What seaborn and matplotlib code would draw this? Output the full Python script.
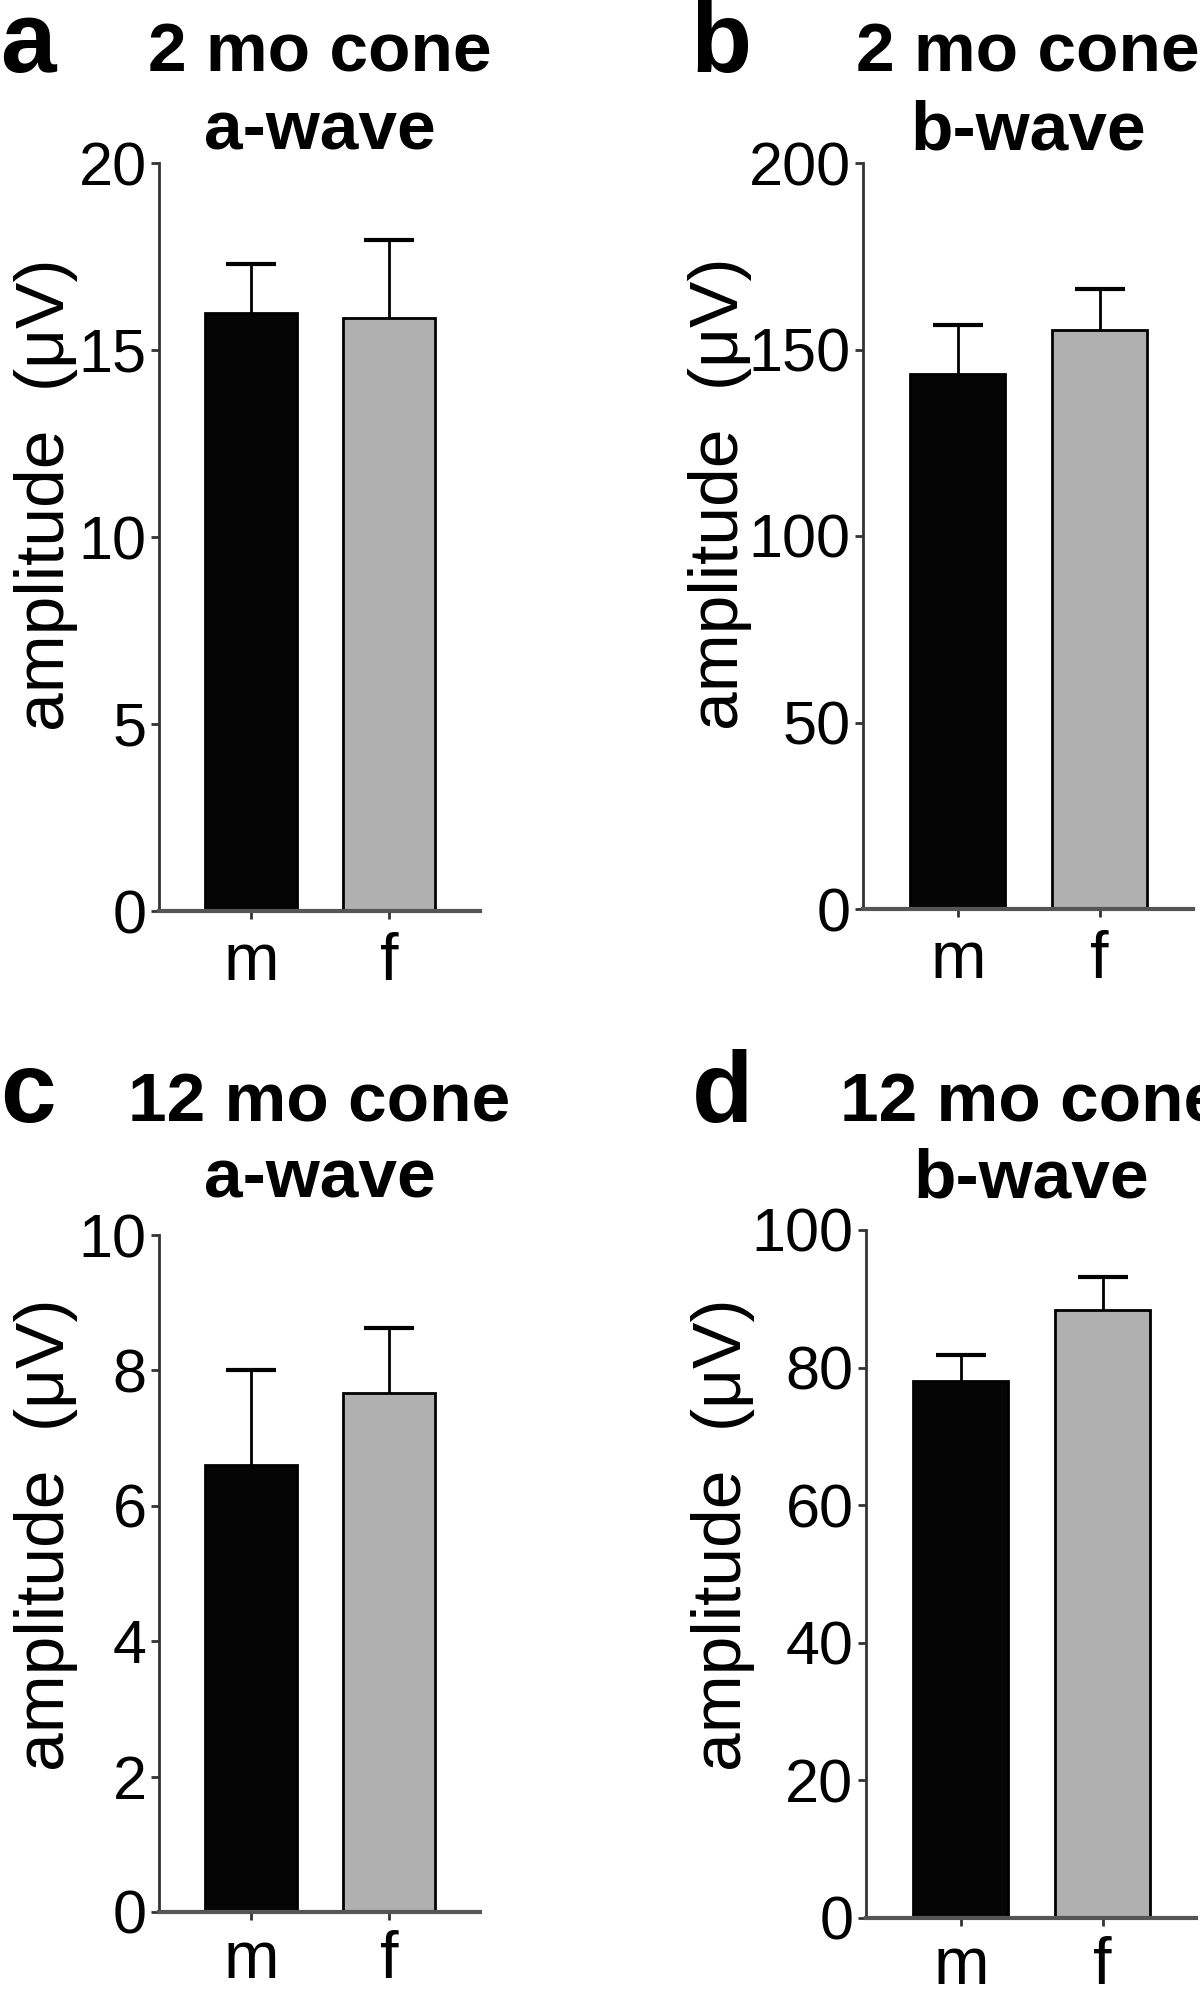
import matplotlib
matplotlib.use('Agg')
import matplotlib.pyplot as plt
import seaborn as sns

# Data (mean, upper error bar)
groups = ['m', 'f']
bar_colors = ['#050505', '#b0b0b0']

a_mean = [16.0, 15.85]
a_err = [1.3, 2.1]
b_mean = [143.3, 155.3]
b_err = [13.4, 11.0]
c_mean = [6.6, 7.66]
c_err = [1.4, 0.96]
d_mean = [78.0, 88.3]
d_err = [3.9, 4.9]

a_ticks = [0, 5, 10, 15, 20]
b_ticks = [0, 50, 100, 150, 200]
c_ticks = [0, 2, 4, 6, 8, 10]
d_ticks = [0, 20, 40, 60, 80, 100]

sns.set_style('ticks')
plt.rcParams['font.family'] = ['Liberation Sans', 'DejaVu Sans']
plt.rcParams['text.color'] = 'black'
plt.rcParams['axes.labelcolor'] = 'black'
plt.rcParams['xtick.color'] = 'black'
plt.rcParams['ytick.color'] = 'black'

W, H = 1200, 1998
fig = plt.figure(figsize=(W / 100, H / 100), dpi=100)


def px_axes(left, top, right, bottom):
    return fig.add_axes([left / W, 1 - bottom / H, (right - left) / W, (bottom - top) / H])


def draw_panel(ax, means, errs, ticks, letter, title1, title2, letter_x, base1, base2, label_x, xpad):
    sns.barplot(x=groups, y=means, hue=groups, palette=bar_colors, legend=False,
                edgecolor='black', linewidth=2, width=0.67, ax=ax)
    eb = ax.errorbar([0, 1], means, yerr=[[0, 0], errs], fmt='none', ecolor='black',
                     elinewidth=2, capsize=18, capthick=3, zorder=1)
    # only the upper cap is drawn in the original
    eb[1][0].set_visible(False)
    ax.set_xlim(-0.67, 1.66)
    ax.set_ylim(ticks[0], ticks[-1])
    ax.set_yticks(ticks)
    ax.set_xlabel('')
    ax.set_ylabel('amplitude  (\u03bcV)', fontsize=50)
    ax.yaxis.set_label_coords(label_x, 0.557)
    ax.tick_params(axis='y', labelsize=44, length=6, width=2, pad=3, color='#333333')
    ax.tick_params(axis='x', labelsize=48, length=6, width=2, pad=xpad, color='#333333')
    sns.despine(ax=ax)
    ax.spines['left'].set_linewidth(2)
    ax.spines['left'].set_color('#333333')
    ax.spines['bottom'].set_linewidth(3)
    ax.spines['bottom'].set_color('#555555')
    bb = ax.get_position()
    cx = (bb.x0 + bb.x1) / 2
    fig.text(cx, 1 - base1 / H, title1, ha='center', va='baseline', fontsize=50, fontweight='bold')
    fig.text(cx, 1 - base2 / H, title2, ha='center', va='baseline', fontsize=50, fontweight='bold')
    fig.text(letter_x / W, 1 - base1 / H, letter, ha='left', va='baseline', fontsize=72, fontweight='bold')


ax_a = px_axes(159, 163, 480, 911)
ax_b = px_axes(863, 163, 1193, 909)
ax_c = px_axes(159, 1235, 480, 1912)
ax_d = px_axes(866, 1230, 1196, 1918)

draw_panel(ax_a, a_mean, a_err, a_ticks, 'a', '2 mo cone', 'a-wave', 0, 72, 150, -0.252, 9)
draw_panel(ax_b, b_mean, b_err, b_ticks, 'b', '2 mo cone', 'b-wave', 690, 72, 150, -0.337, 9)
draw_panel(ax_c, c_mean, c_err, c_ticks, 'c', '12 mo cone', 'a-wave', 0, 1122, 1197, -0.252, 7)
draw_panel(ax_d, d_mean, d_err, d_ticks, 'd', '12 mo cone', 'b-wave', 692, 1122, 1197, -0.337, 7)

fig.savefig('out.png', dpi=100)
